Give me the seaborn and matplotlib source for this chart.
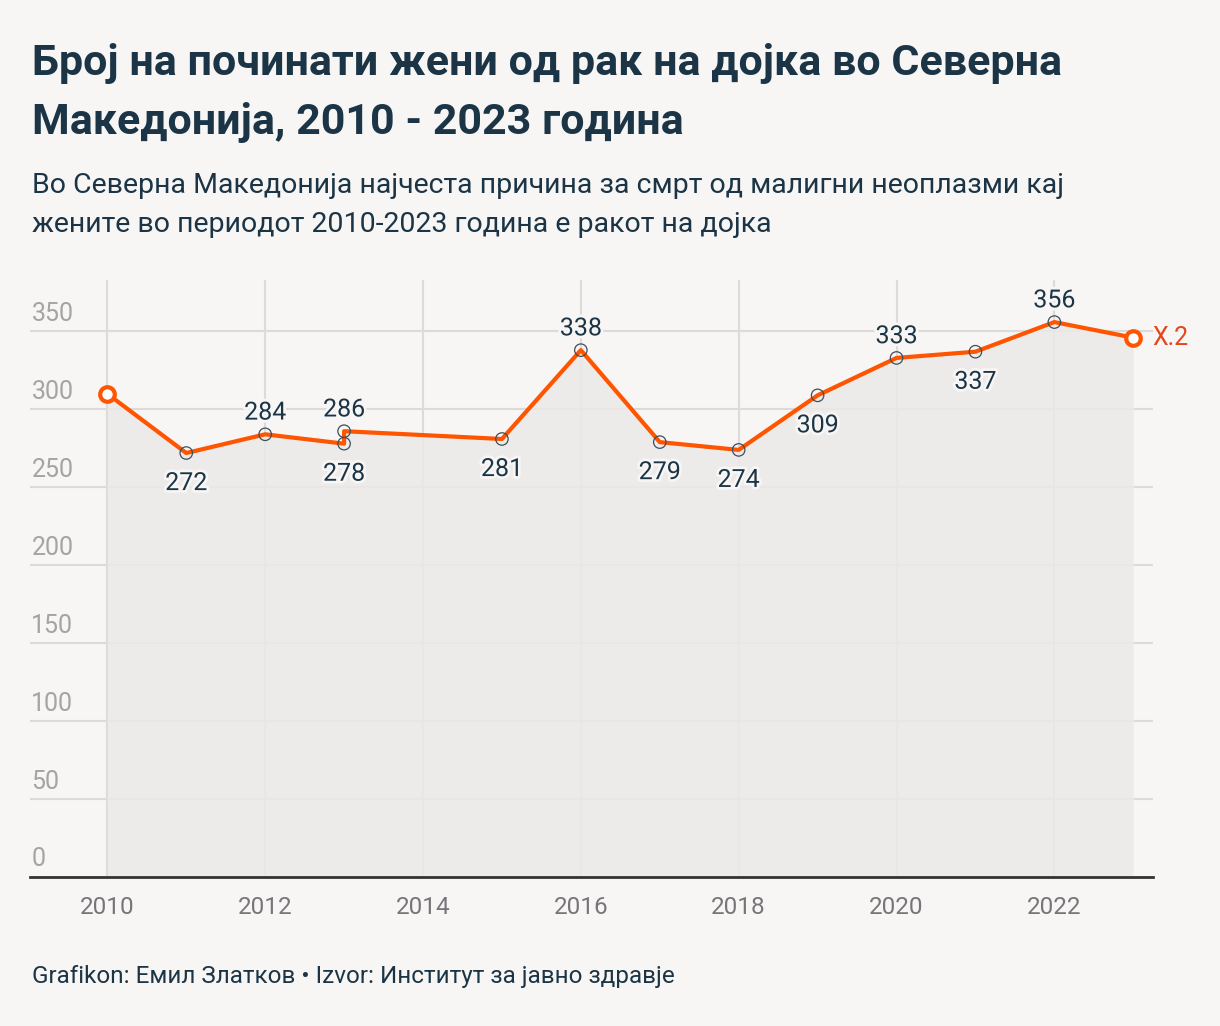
import matplotlib
matplotlib.use('Agg')
import matplotlib.pyplot as plt
import matplotlib.patheffects as pe
import matplotlib.transforms as mtrans
import seaborn as sns
import pandas as pd

# data (2013 has two entries)
years = [2010, 2011, 2012, 2013, 2013, 2015, 2016, 2017, 2018, 2019, 2020, 2021, 2022, 2023]
deaths = [310, 272, 284, 278, 286, 281, 338, 279, 274, 309, 333, 337, 356, 346]
label_pos = [None, 'below', 'above', 'below', 'above', 'below', 'above', 'below', 'below',
             'below', 'above', 'below', 'above', None]
end_label = 'X.2'
yticks = [0, 50, 100, 150, 200, 250, 300, 350]
xticks = [2010, 2012, 2014, 2016, 2018, 2020, 2022]

title = 'Број на починати жени од рак на дојка во Северна\nМакедонија, 2010 - 2023 година'
subtitle = ('Во Северна Македонија најчеста причина за смрт од малигни неоплазми кај\n'
            'жените во периодот 2010-2023 година е ракот на дојка')
footer = 'Grafikon: Емил Златков • Izvor: Институт за јавно здравје'

bg = '#f7f6f4'
navy = '#1b3547'
orange = '#ff5400'
grid = '#dcdbd9'

sns.set_style('white')
plt.rcParams['font.family'] = ['Roboto', 'DejaVu Sans']

df = pd.DataFrame({'year': years, 'deaths': deaths})

fig = plt.figure(figsize=(12.2, 10.26), dpi=100, facecolor=bg)
ax = fig.add_axes([30 / 1220, 1 - 877 / 1026, 1123 / 1220, 597 / 1026])
ax.set_facecolor(bg)

ax.set_xlim(2009.02, 2023.25)
ax.set_ylim(0, 383)

# grid
for v in yticks[1:]:
    ax.axhline(v, color=grid, lw=1.5, zorder=1)
for yr in xticks:
    ax.axvline(yr, color=grid, lw=1.5, zorder=1)

ax.fill_between(df['year'], df['deaths'], 0, color='#ebeae8', alpha=0.85, lw=0, zorder=1.5)

sns.lineplot(data=df, x='year', y='deaths', sort=False, estimator=None, color=orange,
             lw=3, ax=ax, zorder=3)

# small open markers on labelled points
inner = df.iloc[1:-1]
ax.scatter(inner['year'], inner['deaths'], s=80, facecolor='none', edgecolor='#3d4f5c',
           linewidth=0.9, zorder=4)
# end points
ends = df.iloc[[0, -1]]
ax.scatter(ends['year'], ends['deaths'], s=110, facecolor='white', edgecolor=orange,
           linewidth=3, zorder=5)

halo = [pe.withStroke(linewidth=4, foreground=bg)]
for yr, v, pos in zip(years, deaths, label_pos):
    if pos is None:
        continue
    dy = 7 if pos == 'above' else -13
    ax.annotate(str(v), (yr, v), xytext=(0, dy), textcoords='offset points',
                ha='center', va='bottom' if pos == 'above' else 'top',
                fontsize=18, color=navy, path_effects=halo, zorder=6)

ax.annotate(end_label, (years[-1], deaths[-1]), xytext=(14, 0), textcoords='offset points',
            ha='left', va='center', fontsize=18, color='#e5461c', annotation_clip=False)

# y tick labels inside the plot, above the grid lines
ax.set_yticks([])
trans = mtrans.blended_transform_factory(ax.transAxes, ax.transData)
for v in yticks:
    ax.annotate(str(v), (0, v), xycoords=trans, xytext=(1, 4), textcoords='offset points',
                ha='left', va='bottom', fontsize=18, color='#a5a4a2')

ax.set_xticks(xticks)
ax.set_xticklabels([str(x) for x in xticks])
ax.tick_params(axis='x', length=0, pad=14, labelsize=17.5, labelcolor='#76767a')
ax.set_xlabel('')
ax.set_ylabel('')
for s in ['top', 'right', 'left']:
    ax.spines[s].set_visible(False)
ax.spines['bottom'].set_color('#333333')
ax.spines['bottom'].set_linewidth(2)
ax.spines['bottom'].set_zorder(7)

fig.text(32 / 1220, 1 - 43 / 1026, title, ha='left', va='top', fontsize=31,
         fontweight='bold', color=navy, linespacing=1.55)
fig.text(32 / 1220, 1 - 172 / 1026, subtitle, ha='left', va='top', fontsize=20.5,
         color=navy, linespacing=1.55)
fig.text(32 / 1220, 1 - 977 / 1026, footer, ha='left', va='center', fontsize=17.5,
         color=navy)

fig.savefig('out.png', dpi=100, facecolor=bg)
